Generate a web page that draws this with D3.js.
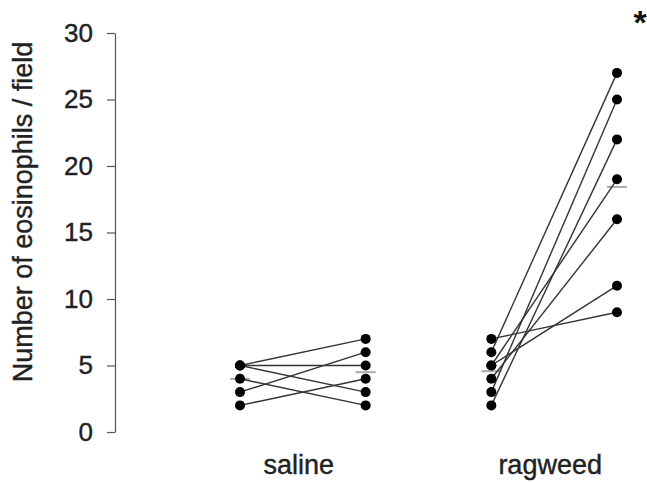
<!DOCTYPE html>
<html>
<head>
<meta charset="utf-8">
<script src="https://cdn.jsdelivr.net/npm/d3@7"></script>
<style>
  body { margin: 0; background: #fff; }
  text { font-family: "Liberation Sans", Arial, sans-serif; }
</style>
</head>
<body>
<script>
const width = 647;
const height = 482;

// data: paired values per animal
const groups = ['saline', 'ragweed'];
const salinePre = [5, 5, 5, 4, 3, 2];
const salinePost = [7, 5, 3, 2, 6, 4];
const ragweedPre = [6, 3, 2, 5, 4, 5, 7];
const ragweedPost = [27, 25, 22, 19, 16, 11, 9];
const yTicks = [0, 5, 10, 15, 20, 25, 30];

let svg = d3.select('body')
    .append('svg')
    .attr('width', width)
    .attr('height', height);

// positions 0,1 = saline pre/post, 2,3 = ragweed pre/post
let xScale = d3.scaleLinear()
    .domain([0, 3])
    .range([240, 617]);

let yScale = d3.scaleLinear()
    .domain([0, 30])
    .range([432, 33]);

let yAxis = d3.axisLeft(yScale)
    .tickValues(yTicks)
    .tickSize(8)
    .tickPadding(14)
    .tickSizeOuter(0);

let yAxisGroup = svg.append('g')
    .attr('transform', 'translate(115,0)')
    .call(yAxis);
yAxisGroup.select('.domain').attr('stroke', '#555').attr('stroke-width', 1.2);
yAxisGroup.selectAll('.tick line').attr('stroke', '#555').attr('stroke-width', 1.2);
yAxisGroup.selectAll('.tick text')
    .style('font-size', '26px')
    .attr('fill', '#222')
    .attr('stroke', '#222')
    .attr('stroke-width', 0.4);

svg.append('text')
    .attr('transform', 'translate(32,212) rotate(-90)')
    .attr('text-anchor', 'middle')
    .style('font-size', '27px')
    .attr('fill', '#222')
    .attr('stroke', '#222')
    .attr('stroke-width', 0.4)
    .text('Number of eosinophils / field');

let pairs = [];
salinePre.forEach((v, i) => pairs.push({ x0: 0, y0: v, x1: 1, y1: salinePost[i] }));
ragweedPre.forEach((v, i) => pairs.push({ x0: 2, y0: v, x1: 3, y1: ragweedPost[i] }));

let means = [
    { x: 0, v: d3.mean(salinePre) },
    { x: 1, v: d3.mean(salinePost) },
    { x: 2, v: d3.mean(ragweedPre) },
    { x: 3, v: d3.mean(ragweedPost) }
];

svg.append('g')
    .selectAll('line')
    .data(means)
    .enter()
    .append('line')
    .attr('x1', d => xScale(d.x) - 10)
    .attr('x2', d => xScale(d.x) + 10)
    .attr('y1', d => yScale(d.v))
    .attr('y2', d => yScale(d.v))
    .attr('stroke', '#aaa')
    .attr('stroke-width', 2);

svg.append('g')
    .selectAll('line')
    .data(pairs)
    .enter()
    .append('line')
    .attr('x1', d => xScale(d.x0))
    .attr('y1', d => yScale(d.y0))
    .attr('x2', d => xScale(d.x1))
    .attr('y2', d => yScale(d.y1))
    .attr('stroke', '#333')
    .attr('stroke-width', 1.4);

let points = [];
pairs.forEach(d => {
    points.push({ x: d.x0, v: d.y0 });
    points.push({ x: d.x1, v: d.y1 });
});

svg.append('g')
    .selectAll('circle')
    .data(points)
    .enter()
    .append('circle')
    .attr('cx', d => xScale(d.x))
    .attr('cy', d => yScale(d.v))
    .attr('r', 5)
    .attr('fill', '#000');

svg.append('g')
    .selectAll('text')
    .data(groups)
    .enter()
    .append('text')
    .attr('x', (d, i) => xScale(i * 2 + 0.5) - 4)
    .attr('y', 474)
    .attr('text-anchor', 'middle')
    .style('font-size', '27px')
    .attr('fill', '#222')
    .attr('stroke', '#222')
    .attr('stroke-width', 0.4)
    .text(d => d);

svg.append('text')
    .attr('x', 640)
    .attr('y', 34)
    .attr('text-anchor', 'middle')
    .style('font-size', '34px')
    .style('font-weight', 'bold')
    .attr('fill', '#111')
    .text('*');
</script>
</body>
</html>
